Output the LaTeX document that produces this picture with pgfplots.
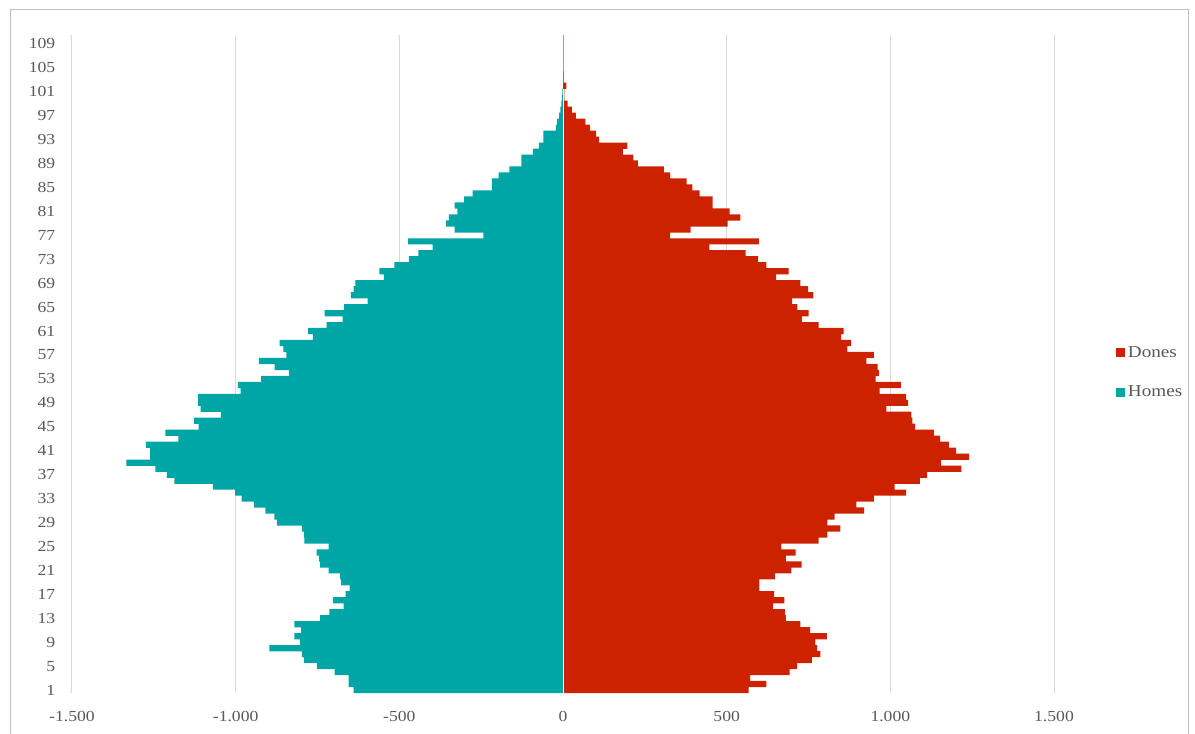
\documentclass[border=0pt]{standalone}
\usepackage{fontspec}
\setmainfont{Liberation Serif}[FakeStretch=1.15]
\usepackage{pgfplots}
\usepackage{pgfplotstable}
\pgfplotsset{compat=1.18}
\definecolor{homescol}{RGB}{0,166,166}
\definecolor{donescol}{RGB}{204,34,0}
\definecolor{gridgray}{RGB}{217,217,217}
\definecolor{txtgray}{RGB}{89,89,89}
\definecolor{framegray}{RGB}{190,190,190}

\pgfplotstableread{
age homes dones
1 -640 567
2 -655 621
3 -655 572
4 -698 692
5 -751 715
6 -792 760
7 -798 786
8 -897 776
9 -804 771
10 -821 806
11 -800 755
12 -821 725
13 -742 681
14 -714 678
15 -670 642
16 -702 676
17 -664 645
18 -652 600
19 -678 600
20 -681 648
21 -716 698
22 -742 729
23 -745 681
24 -753 711
25 -716 667
26 -790 781
27 -792 808
28 -798 847
29 -874 808
30 -882 830
31 -909 920
32 -944 896
33 -982 950
34 -1002 1048
35 -1070 1013
36 -1187 1090
37 -1210 1112
38 -1245 1217
39 -1334 1155
40 -1261 1241
41 -1261 1201
42 -1274 1179
43 -1175 1152
44 -1215 1133
45 -1113 1076
46 -1127 1067
47 -1045 1064
48 -1107 988
49 -1115 1054
50 -1115 1048
51 -985 967
52 -993 1032
53 -922 955
54 -837 965
55 -881 961
56 -929 927
57 -845 950
58 -854 869
59 -866 880
60 -764 850
61 -779 857
62 -722 781
63 -673 730
64 -728 750
65 -669 716
66 -597 700
67 -648 765
68 -640 749
69 -634 725
70 -547 651
71 -561 689
72 -515 621
73 -471 596
74 -442 558
75 -398 447
76 -473 598
77 -243 327
78 -331 390
79 -358 503
80 -349 542
81 -323 509
82 -331 457
83 -302 457
84 -276 417
85 -217 395
86 -217 378
87 -197 327
88 -164 308
89 -127 229
90 -127 215
91 -92 183
92 -74 197
93 -60 110
94 -60 101
95 -22 82
96 -18 68
97 -12 39
98 -8 27
99 -5 14
100 -3 4
101 -2 4
102 0 10
103 0 2
104 0 2
105 0 1
106 0 1
107 0 1
108 0 1
109 0 1
110 0 1
}\pyr

\begin{document}
\begin{tikzpicture}
\useasboundingbox (0,0) rectangle (896.25pt,549.75pt);
\draw[framegray, line width=0.75pt] (7.5pt,-5pt) -- (7.5pt,542.25pt) -- (891pt,542.25pt) -- (891pt,-5pt);
\begin{axis}[
  at={(54pt,30pt)}, anchor=south west,
  width=736.5pt, height=493.5pt, scale only axis,
  xmin=-1500, xmax=1500, ymin=0.5, ymax=110.5,
  xtick={-1500,-1000,-500,0,500,1000,1500},
  xticklabels={-1.500,-1.000,-500,0,500,1.000,1.500},
  ytick={1,5,...,109},
  xmajorgrids, grid style={gridgray, line width=0.75pt},
  axis line style={draw=none}, major tick style={draw=none},
  ticklabel style={font=\fontsize{11.5}{13}\selectfont, text=txtgray},
  /pgf/number format/assume math mode=true,
  yticklabel style={xshift=-9pt},
  xticklabel style={yshift=-10pt},
  legend style={at={(1.059,0.487)}, anchor=west, draw=none, fill=none,
    row sep=16pt, font=\fontsize{12.5}{14}\selectfont, text=txtgray,
    /tikz/every even column/.append style={column sep=2pt}},
  legend cell align=left,
  legend image code/.code={\fill[#1,draw=none] (0pt,-3.4pt) rectangle (6.8pt,3.4pt);},
]
\addplot[xbar, bar width=1.04, bar shift=0pt, fill=donescol, draw=none] table[x=dones, y=age] {\pyr};
\addlegendentry{Dones}
\addplot[xbar, bar width=1.04, bar shift=0pt, fill=homescol, draw=none] table[x=homes, y=age] {\pyr};
\addlegendentry{Homes}
\draw[white, line width=0.75pt] (axis cs:0,0.5) -- (axis cs:0,101.5);
\end{axis}
\end{tikzpicture}
\end{document}
